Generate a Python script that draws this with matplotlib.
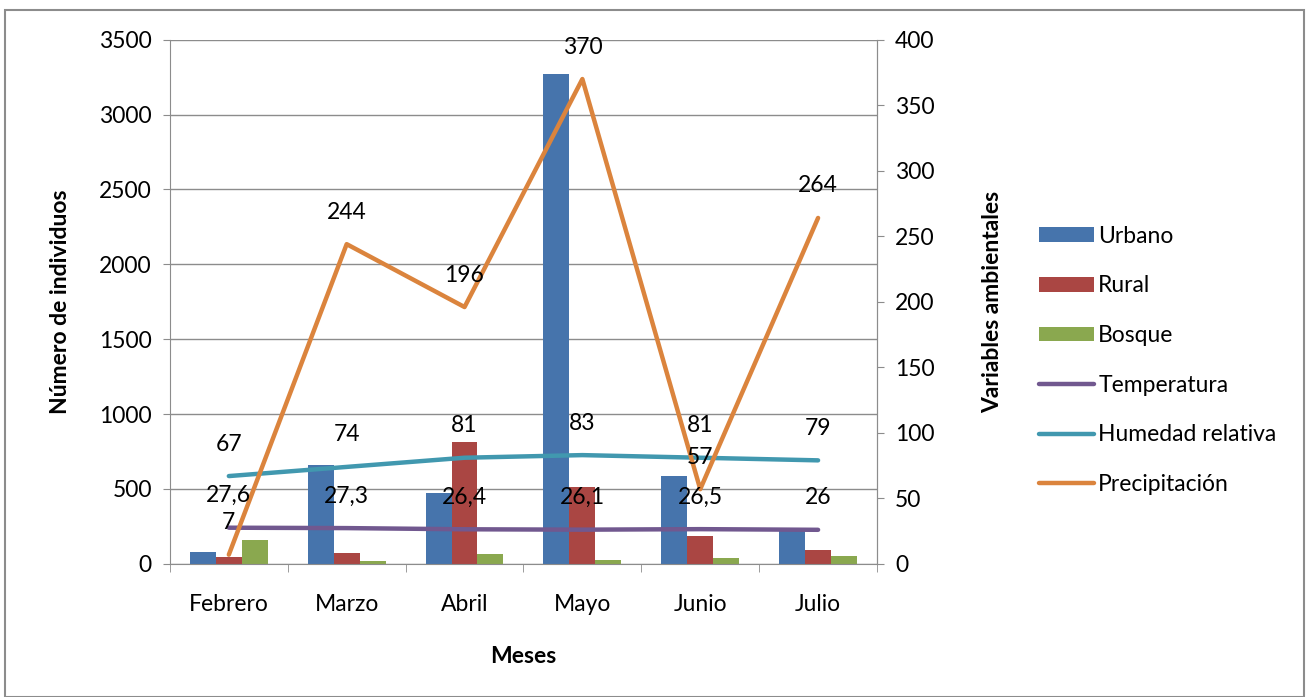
import numpy as np
import matplotlib
matplotlib.use("Agg")
import matplotlib.pyplot as plt
from matplotlib.patches import Rectangle

plt.rcParams["font.family"] = ["Lato", "DejaVu Sans"]

meses = ["Febrero", "Marzo", "Abril", "Mayo", "Junio", "Julio"]
urbano = [82, 657, 472, 3273, 590, 240]
rural = [49, 75, 813, 512, 187, 94]
bosque = [160, 22, 67, 25, 42, 51]
temperatura = [27.6, 27.3, 26.4, 26.1, 26.5, 26]
humedad = [67, 74, 81, 83, 81, 79]
precipitacion = [7, 244, 196, 370, 57, 264]
temp_labels = ["27,6", "27,3", "26,4", "26,1", "26,5", "26"]

FS = 16.5

fig = plt.figure(figsize=(13.07, 6.97), dpi=100)
fig.add_artist(Rectangle((0.004, 0.0), 0.994, 0.985, transform=fig.transFigure,
                         fill=False, edgecolor="#8c8c8c", lw=1.5))

ax = fig.add_axes([0.130, 0.191, 0.541, 0.752])
x = np.arange(len(meses))
w = 0.22
ax.bar(x - w, urbano, w, color="#4674AC", label="Urbano", zorder=2)
ax.bar(x, rural, w, color="#AA4643", label="Rural", zorder=2)
ax.bar(x + w, bosque, w, color="#8AA84F", label="Bosque", zorder=2)
ax.set_ylim(0, 3500)
ax.set_xlim(-0.5, len(meses) - 0.5)
ax.set_yticks(range(0, 3501, 500))
ax.grid(axis="y", color="#8c8c8c", lw=1, zorder=0)
ax.set_xticks(x)
ax.set_xticklabels(meses, fontsize=FS)
ax.set_xticks(np.arange(-0.5, len(meses)), minor=True)
ax.tick_params(axis="x", which="major", length=0, pad=22)
ax.tick_params(axis="x", which="minor", length=6, color="#8c8c8c")
ax.tick_params(axis="y", labelsize=FS, length=5, color="#8c8c8c", pad=8)
ax.spines["top"].set_visible(False)
for s in ["left", "bottom", "right"]:
    ax.spines[s].set_color("#8c8c8c")
ax.set_ylabel("Número de individuos", fontsize=FS, fontweight="bold", labelpad=20)
ax.set_xlabel("Meses", fontsize=FS, fontweight="bold", labelpad=22)

ax2 = ax.twinx()
ax2.set_ylim(0, 400)
ax2.set_yticks(range(0, 401, 50))
ax2.tick_params(axis="y", labelsize=FS, length=5, color="#8c8c8c", pad=8)
for s in ["top", "left", "bottom"]:
    ax2.spines[s].set_visible(False)
ax2.spines["right"].set_color("#8c8c8c")
ax2.set_ylabel("Variables ambientales", fontsize=FS, fontweight="bold", labelpad=34)

ax2.plot(x, temperatura, color="#71588F", lw=3.2, solid_capstyle="round", label="Temperatura")
ax2.plot(x, humedad, color="#4198AF", lw=3.2, solid_capstyle="round", label="Humedad relativa")
ax2.plot(x, precipitacion, color="#DB843D", lw=3.2, solid_capstyle="round", label="Precipitación")

for xi, v, t in zip(x, temperatura, temp_labels):
    ax2.annotate(t, (xi, v), xytext=(0, 23), textcoords="offset points",
                 ha="center", va="center", fontsize=FS)
for xi, v in zip(x, humedad):
    ax2.annotate(str(v), (xi, v), xytext=(0, 23), textcoords="offset points",
                 ha="center", va="center", fontsize=FS)
for xi, v in zip(x, precipitacion):
    ax2.annotate(str(v), (xi, v), xytext=(0, 23), textcoords="offset points",
                 ha="center", va="center", fontsize=FS)

h1, l1 = ax.get_legend_handles_labels()
h2, l2 = ax2.get_legend_handles_labels()
fig.legend(h1 + h2, l1 + l2, loc="center left", bbox_to_anchor=(0.779, 0.483),
           frameon=False, fontsize=FS, labelspacing=1.25, handlelength=2.4,
           handleheight=0.6, handletextpad=0.2)

fig.savefig("out.png", dpi=100)
